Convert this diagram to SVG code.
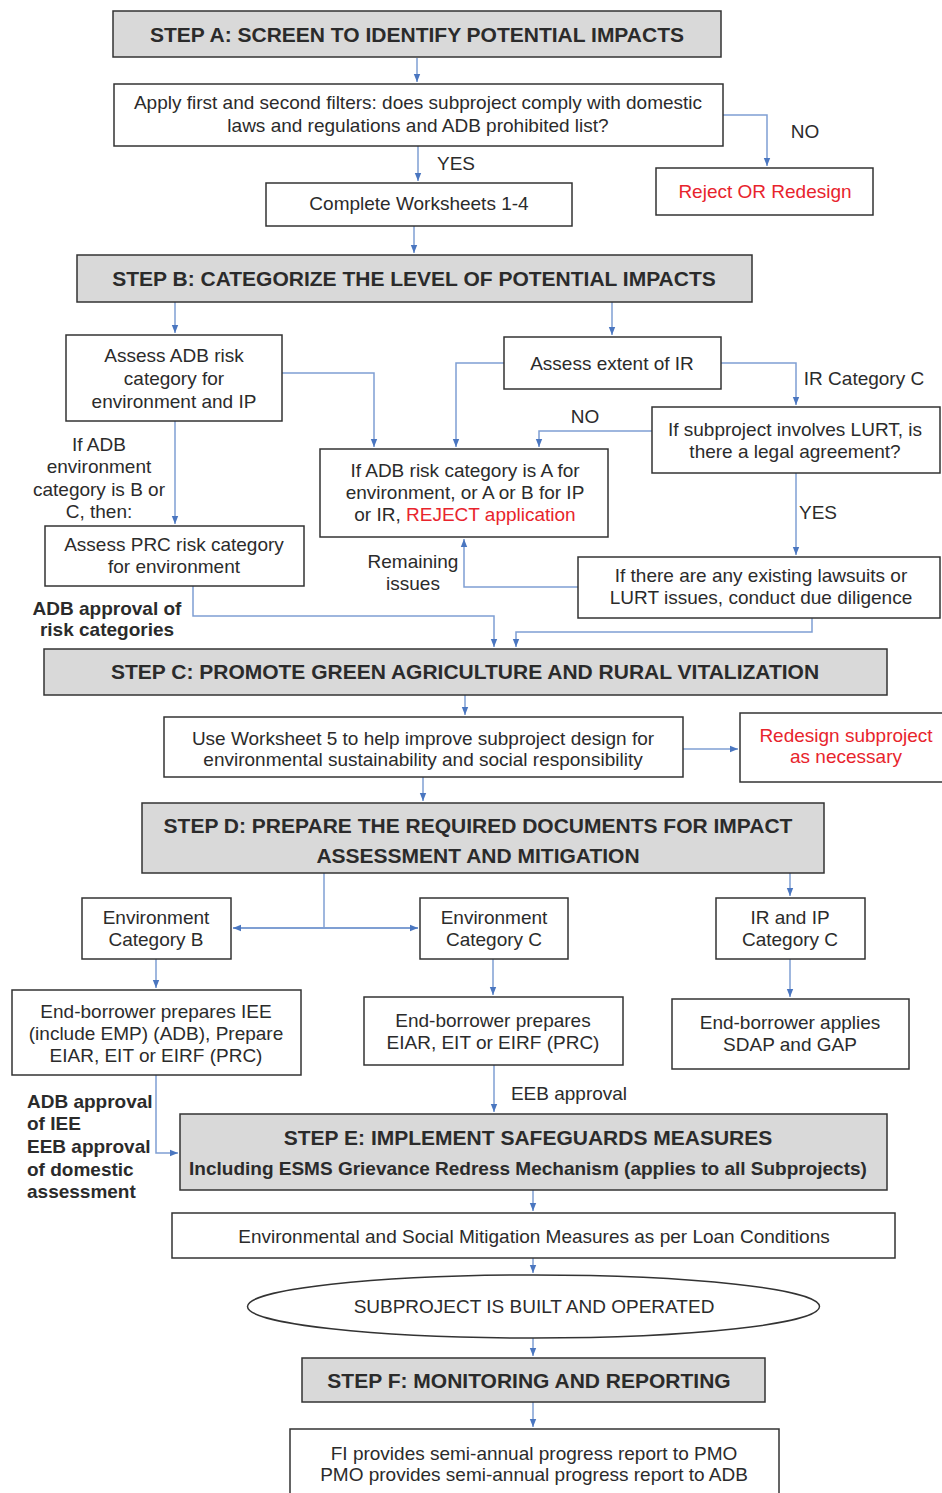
<svg xmlns="http://www.w3.org/2000/svg" width="942" height="1493" viewBox="0 0 942 1493">
<defs>
<style>
.box{fill:#fff;stroke:#333;stroke-width:1.5}
.step{fill:#d9d9d9;stroke:#333;stroke-width:1.5}
text{font-family:"Liberation Sans",Arial,sans-serif;font-size:19px;fill:#2b2b2b}
.c{text-anchor:middle}
.b{font-weight:bold}
.h{font-size:21px;font-weight:bold;text-anchor:middle}
.red{fill:#e8242c}
#connectors path{fill:none;stroke:#7f9fd3;stroke-width:1.5;marker-end:url(#ah)}
</style>
<marker id="ah" viewBox="0 0 10 10" refX="10" refY="5" markerWidth="8" markerHeight="8" markerUnits="userSpaceOnUse" orient="auto-start-reverse">
<path d="M0,1 L10,5 L0,9 z" fill="#4a76c0"/>
</marker>
</defs>
<rect width="942" height="1493" fill="#fff"/>

<g id="connectors">
<path d="M417,58 V82"/>
<path d="M723,115 H767 V166"/>
<path d="M418,146 V181"/>
<path d="M414,226 V253"/>
<path d="M175,302 V333"/>
<path d="M612,302 V335"/>
<path d="M282,373 H374 V447"/>
<path d="M504,363 H456 V447"/>
<path d="M721,363 H796 V405"/>
<path d="M652,431 H539 V447"/>
<path d="M796,473 V555"/>
<path d="M578,587 H464 V539"/>
<path d="M175,421 V524"/>
<path d="M193,586 V616 H494 V647"/>
<path d="M812,618 V632 H516 V647"/>
<path d="M465,695 V715"/>
<path d="M683,749 H738"/>
<path d="M423,777 V801"/>
<path d="M324,873 V928" style="marker-end:none"/>
<path d="M233,928 H418" style="marker-start:url(#ah);stroke-width:2"/>
<path d="M790,873 V896"/>
<path d="M156,959 V988"/>
<path d="M493,959 V995"/>
<path d="M790,959 V997"/>
<path d="M156,1075 V1153 H178"/>
<path d="M494,1065 V1112"/>
<path d="M533,1190 V1211"/>
<path d="M533,1258 V1273"/>
<path d="M533,1338 V1356"/>
<path d="M533,1402 V1427"/>
</g>

<g id="stepA"><rect class="step" x="113" y="11" width="608" height="46"/><text class="h" x="417" y="42">STEP A: SCREEN TO IDENTIFY POTENTIAL IMPACTS</text></g>
<g id="filters"><rect class="box" x="114" y="84" width="609" height="62"/><text class="c" x="418" y="109">Apply first and second filters: does subproject comply with domestic</text><text class="c" x="418" y="132">laws and regulations and ADB prohibited list?</text></g>
<g id="reject"><rect class="box" x="656" y="168" width="217" height="47"/><text class="c red" x="765" y="198">Reject OR Redesign</text></g>
<g id="worksheets"><rect class="box" x="266" y="183" width="306" height="43"/><text class="c" x="419" y="210">Complete Worksheets 1-4</text></g>
<g id="stepB"><rect class="step" x="77" y="255" width="675" height="47"/><text class="h" x="414" y="286">STEP B: CATEGORIZE THE LEVEL OF POTENTIAL IMPACTS</text></g>
<g id="assessADB"><rect class="box" x="66" y="335" width="216" height="86"/><text class="c" x="174" y="362">Assess ADB risk</text><text class="c" x="174" y="385">category for</text><text class="c" x="174" y="408">environment and IP</text></g>
<g id="assessIR"><rect class="box" x="504" y="337" width="217" height="52"/><text class="c" x="612" y="370">Assess extent of IR</text></g>
<g id="lurt"><rect class="box" x="652" y="407" width="288" height="66"/><text class="c" x="795" y="436">If subproject involves LURT, is</text><text class="c" x="795" y="458">there a legal agreement?</text></g>
<g id="rejectApp"><rect class="box" x="320" y="449" width="288" height="88"/><text class="c" x="465" y="477">If ADB risk category is A for</text><text class="c" x="465" y="499">environment, or A or B for IP</text><text class="c" x="465" y="521">or IR, <tspan class="red">REJECT application</tspan></text></g>
<g id="lawsuits"><rect class="box" x="578" y="557" width="362" height="61"/><text class="c" x="761" y="582">If there are any existing lawsuits or</text><text class="c" x="761" y="604">LURT issues, conduct due diligence</text></g>
<g id="assessPRC"><rect class="box" x="45" y="526" width="259" height="60"/><text class="c" x="174" y="551">Assess PRC risk category</text><text class="c" x="174" y="573">for environment</text></g>
<g id="labels">
<text class="c" x="456" y="170">YES</text>
<text class="c" x="805" y="138">NO</text>
<text class="c" x="864" y="385">IR Category C</text>
<text class="c" x="585" y="423">NO</text>
<text class="c" x="818" y="519">YES</text>
<text class="c" x="413" y="568">Remaining</text>
<text class="c" x="413" y="590">issues</text>
<text class="c" x="99" y="451">If ADB</text>
<text class="c" x="99" y="473">environment</text>
<text class="c" x="99" y="496">category is B or</text>
<text class="c" x="99" y="518">C, then:</text>
<text class="c b" x="107" y="615">ADB approval of</text>
<text class="c b" x="107" y="636">risk categories</text>
<text class="c" x="569" y="1100">EEB approval</text>
<text class="b" x="27" y="1108">ADB approval</text>
<text class="b" x="27" y="1130">of IEE</text>
<text class="b" x="27" y="1153">EEB approval</text>
<text class="b" x="27" y="1176">of domestic</text>
<text class="b" x="27" y="1198">assessment</text>
</g>
<g id="stepC"><rect class="step" x="44" y="649" width="843" height="46"/><text class="h" x="465" y="679">STEP C: PROMOTE GREEN AGRICULTURE AND RURAL VITALIZATION</text></g>
<g id="worksheet5"><rect class="box" x="164" y="717" width="519" height="60"/><text class="c" x="423" y="745">Use Worksheet 5 to help improve subproject design for</text><text class="c" x="423" y="766">environmental sustainability and social responsibility</text></g>
<g id="redesign"><rect class="box" x="740" y="713" width="210" height="69"/><text class="c red" x="846" y="742">Redesign subproject</text><text class="c red" x="846" y="763">as necessary</text></g>
<g id="stepD"><rect class="step" x="142" y="803" width="682" height="70"/><text class="h" x="478" y="833">STEP D: PREPARE THE REQUIRED DOCUMENTS FOR IMPACT</text><text class="h" x="478" y="863">ASSESSMENT AND MITIGATION</text></g>
<g id="envB"><rect class="box" x="82" y="898" width="149" height="61"/><text class="c" x="156" y="924">Environment</text><text class="c" x="156" y="946">Category B</text></g>
<g id="envC"><rect class="box" x="420" y="898" width="148" height="61"/><text class="c" x="494" y="924">Environment</text><text class="c" x="494" y="946">Category C</text></g>
<g id="irip"><rect class="box" x="716" y="898" width="149" height="61"/><text class="c" x="790" y="924">IR and IP</text><text class="c" x="790" y="946">Category C</text></g>
<g id="iee"><rect class="box" x="12" y="990" width="289" height="85"/><text class="c" x="156" y="1018">End-borrower prepares IEE</text><text class="c" x="156" y="1040">(include EMP) (ADB), Prepare</text><text class="c" x="156" y="1062">EIAR, EIT or EIRF (PRC)</text></g>
<g id="eiar"><rect class="box" x="364" y="997" width="259" height="68"/><text class="c" x="493" y="1027">End-borrower prepares</text><text class="c" x="493" y="1049">EIAR, EIT or EIRF (PRC)</text></g>
<g id="sdap"><rect class="box" x="672" y="999" width="237" height="70"/><text class="c" x="790" y="1029">End-borrower applies</text><text class="c" x="790" y="1051">SDAP and GAP</text></g>
<g id="stepE"><rect class="step" x="180" y="1114" width="707" height="76"/><text class="h" x="528" y="1145">STEP E: IMPLEMENT SAFEGUARDS MEASURES</text><text class="c b" x="528" y="1175">Including ESMS Grievance Redress Mechanism (applies to all Subprojects)</text></g>
<g id="mitigation"><rect class="box" x="172" y="1213" width="723" height="45"/><text class="c" x="534" y="1243">Environmental and Social Mitigation Measures as per Loan Conditions</text></g>
<g id="built"><ellipse class="box" cx="533.5" cy="1306.5" rx="286" ry="31.5"/><text class="c" x="534" y="1313">SUBPROJECT IS BUILT AND OPERATED</text></g>
<g id="stepF"><rect class="step" x="302" y="1358" width="463" height="44"/><text class="h" x="529" y="1388">STEP F: MONITORING AND REPORTING</text></g>
<g id="report"><rect class="box" x="290" y="1429" width="489" height="75"/><text class="c" x="534" y="1460">FI provides semi-annual progress report to PMO</text><text class="c" x="534" y="1481">PMO provides semi-annual progress report to ADB</text></g>
</svg>
